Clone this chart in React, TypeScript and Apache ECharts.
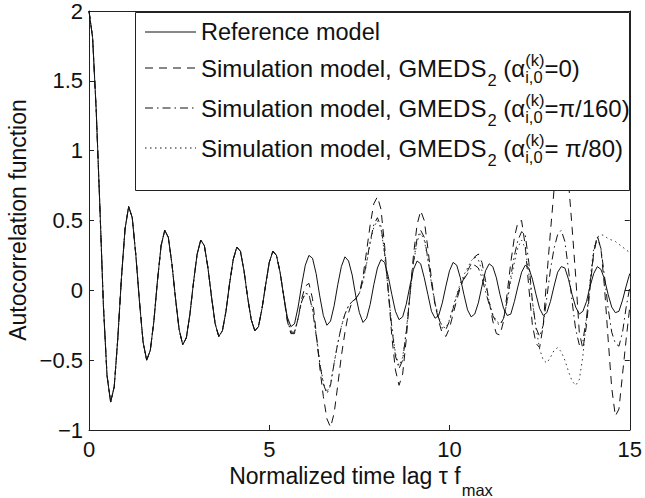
import React, { useEffect, useRef } from "react";
import * as echarts from "echarts";

// Reference model, sampled every 0.1 in tau from 0 to 15
const REF_VALUES = [
  2.0, 1.81, 1.29, 0.61, -0.11, -0.61, -0.8, -0.69, -0.34, 0.09,
  0.44, 0.6, 0.52, 0.25, -0.08, -0.37, -0.5, -0.43, -0.22, 0.07,
  0.32, 0.43, 0.38, 0.19, -0.06, -0.28, -0.39, -0.34, -0.17, 0.06,
  0.26, 0.36, 0.32, 0.16, -0.05, -0.24, -0.33, -0.29, -0.15, 0.05,
  0.22, 0.31, 0.28, 0.14, -0.05, -0.21, -0.29, -0.26, -0.13, 0.04,
  0.2, 0.28, 0.25, 0.13, -0.04, -0.19, -0.26, -0.24, -0.12, 0.04,
  0.18, 0.25, 0.23, 0.12, -0.04, -0.18, -0.25, -0.22, -0.11, 0.04,
  0.17, 0.24, 0.21, 0.11, -0.04, -0.16, -0.23, -0.2, -0.1, 0.04,
  0.16, 0.22, 0.2, 0.1, -0.03, -0.15, -0.21, -0.19, -0.1, 0.03,
  0.15, 0.21, 0.19, 0.09, -0.03, -0.15, -0.2, -0.18, -0.09, 0.03,
  0.14, 0.2, 0.18, 0.09, -0.03, -0.14, -0.19, -0.17, -0.09, 0.03,
  0.14, 0.19, 0.17, 0.09, -0.03, -0.13, -0.18, -0.17, -0.08, 0.03,
  0.13, 0.18, 0.16, 0.08, -0.03, -0.13, -0.18, -0.16, -0.08, 0.03,
  0.13, 0.17, 0.16, 0.08, -0.03, -0.12, -0.17, -0.15, -0.08, 0.03,
  0.12, 0.17, 0.15, 0.08, -0.03, -0.12, -0.16, -0.15, -0.07, 0.03,
  0.12,
];

// Simulation models coincide with the reference up to tau = 5.4; values below start at tau = 5.5 (step 0.1)
const SIM_START = 55;

const SIM_ALPHA0 = [
  -0.22, -0.31, -0.31, -0.2, -0.06, 0.03, 0.05, -0.06, -0.3, -0.55,
  -0.76, -0.92, -0.98, -0.88, -0.68, -0.47, -0.3, -0.16, -0.08, -0.06,
  -0.02, 0.1, 0.28, 0.47, 0.62, 0.67, 0.58, 0.32, 0.0, -0.33,
  -0.57, -0.68, -0.6, -0.35, -0.03, 0.25, 0.47, 0.57, 0.5, 0.3,
  0.08, -0.1, -0.22, -0.31, -0.33, -0.27, -0.17, -0.07, 0.02, 0.09,
  0.14, 0.19, 0.24, 0.26, 0.2, 0.07, -0.08, -0.22, -0.31, -0.32,
  -0.22, -0.02, 0.2, 0.38, 0.49, 0.5, 0.32, 0.02, -0.25, -0.38,
  -0.41, -0.25, 0.1, 0.42, 0.72, 0.95, 1.05, 0.98, 0.78, 0.45,
  0.1, -0.3, -0.42, -0.25, 0.02, 0.27, 0.39, 0.3, 0.02, -0.35,
  -0.7, -0.9, -0.85, -0.6, -0.35, -0.12,
];

const SIM_PI160 = [
  -0.21, -0.3, -0.3, -0.2, -0.08, -0.02, -0.03, -0.14, -0.32, -0.52,
  -0.67, -0.74, -0.68, -0.52, -0.38, -0.26, -0.17, -0.11, -0.08, -0.06,
  -0.02, 0.07, 0.2, 0.35, 0.47, 0.52, 0.46, 0.27, 0.0, -0.27,
  -0.47, -0.56, -0.5, -0.3, -0.04, 0.2, 0.37, 0.43, 0.38, 0.23,
  0.05, -0.1, -0.2, -0.27, -0.28, -0.22, -0.13, -0.04, 0.03, 0.08,
  0.12, 0.16, 0.18, 0.16, 0.09, -0.01, -0.1, -0.18, -0.23, -0.25,
  -0.2, -0.07, 0.1, 0.25, 0.36, 0.42, 0.4, 0.2, -0.08, -0.27,
  -0.33, -0.25, -0.05, 0.15, 0.3, 0.4, 0.43, 0.35, 0.15, -0.08,
  -0.28, -0.39, -0.36, -0.2, 0.05, 0.27, 0.38, 0.3, 0.1, -0.13,
  -0.3, -0.38, -0.4, -0.3, -0.12, 0.02,
];

const SIM_PI80 = [
  -0.21, -0.29, -0.3, -0.2, -0.08, -0.02, -0.03, -0.13, -0.31, -0.51,
  -0.66, -0.73, -0.67, -0.52, -0.38, -0.26, -0.17, -0.11, -0.08, -0.06,
  -0.02, 0.06, 0.19, 0.34, 0.45, 0.5, 0.44, 0.26, 0.0, -0.26,
  -0.45, -0.54, -0.48, -0.29, -0.04, 0.19, 0.35, 0.41, 0.36, 0.22,
  0.05, -0.09, -0.19, -0.26, -0.27, -0.21, -0.12, -0.03, 0.05, 0.11,
  0.16, 0.21, 0.24, 0.22, 0.14, 0.03, -0.08, -0.17, -0.22, -0.24,
  -0.2, -0.08, 0.07, 0.2, 0.31, 0.36, 0.3, 0.12, -0.08, -0.27,
  -0.42, -0.5, -0.52, -0.48, -0.43, -0.41, -0.44, -0.5, -0.58, -0.65,
  -0.68, -0.64, -0.47, -0.2, 0.08, 0.3, 0.38, 0.4, 0.39, 0.37,
  0.36, 0.35, 0.33, 0.31, 0.29, 0.27,
];

const X_MIN = 0;
const X_MAX = 15;
const X_INTERVAL = 5;
const Y_MIN = -1;
const Y_MAX = 2;
const Y_INTERVAL = 0.5;

const SERIES_NAMES = [
  "Reference model",
  "Simulation model, GMEDS2 (α=0)",
  "Simulation model, GMEDS2 (α=π/160)",
  "Simulation model, GMEDS2 (α=π/80)",
];
const LEGEND_MAIN = "Simulation model, GMEDS";
const LEGEND_TAILS = ["=0)", "=π/160)", "= π/80)"];
const X_TITLE = "Normalized time lag τ f";
const X_TITLE_SUB = "max";
const Y_TITLE = "Autocorrelation function";

const FONT = '"Liberation Sans", Arial, Helvetica, sans-serif';
const INK = "#111";

const GRID = { left: 89, top: 10, width: 543, height: 420 };

function buildRef() {
  return REF_VALUES.map((v, i) => [i / 10, v]);
}
function buildSim(vals: number[]) {
  const head = REF_VALUES.slice(0, SIM_START).map((v, i) => [i / 10, v]);
  const tail = vals.map((v, i) => [(SIM_START + i) / 10, v]);
  return head.concat(tail);
}

export default function App() {
  const ref = useRef<HTMLDivElement>(null);

  useEffect(() => {
    if (!ref.current) return;
    const chart = echarts.init(ref.current, null, { renderer: "svg" });

    const canvas = document.createElement("canvas");
    const ctx = canvas.getContext("2d")!;
    const tw = (s: string, size: number) => {
      ctx.font = `${size}px ${FONT}`;
      return ctx.measureText(s).width;
    };

    const MAIN = 23;
    const LEG_MAIN = 24;
    const SMALL = 16.5;
    const DASHES: (number[] | null)[] = [null, [8, 6], [8, 4, 1.5, 4], [1.5, 3.5]];
    const ROW_Y = [32, 68, 108, 148];

    const els: any[] = [];
    els.push({
      type: "rect",
      z: 100,
      shape: { x: 135.5, y: 12.5, width: 494, height: 178 },
      style: { fill: "#fff", stroke: "#222", lineWidth: 1 },
    });
    ROW_Y.forEach((y, i) => {
      els.push({
        type: "line",
        z: 101,
        shape: { x1: 145, y1: y, x2: 196, y2: y },
        style: { stroke: INK, lineWidth: 1, lineDash: DASHES[i] || undefined },
      });
      let x = 201;
      const add = (text: string, size: number, dy: number, advance = true) => {
        els.push({
          type: "text",
          z: 101,
          x,
          y: y + dy,
          style: { text, fontSize: size, fontFamily: FONT, fill: INK, align: "left", verticalAlign: "middle" },
        });
        const w = tw(text, size);
        if (advance) x += w;
        return w;
      };
      if (i === 0) {
        add(SERIES_NAMES[0], 23.5, 0);
      } else {
        add(LEGEND_MAIN, LEG_MAIN, 0);
        x += 1;
        add("2", SMALL, 12);
        add(" (α", LEG_MAIN, 0);
        const w1 = add("(k)", SMALL, -8, false);
        const w2 = add("i,0", SMALL, 9, false);
        x += Math.max(w1, w2);
        add(LEGEND_TAILS[i - 1], LEG_MAIN, 0);
      }
    });

    // axis titles
    const wMain = tw(X_TITLE, MAIN);
    const wSub = tw(X_TITLE_SUB, SMALL);
    const cx = GRID.left + GRID.width / 2;
    const x0 = cx - (wMain + wSub) / 2;
    els.push({
      type: "text",
      x: x0,
      y: 476,
      style: { text: X_TITLE, fontSize: MAIN, fontFamily: FONT, fill: INK, align: "left", verticalAlign: "middle" },
    });
    els.push({
      type: "text",
      x: x0 + wMain + 1,
      y: 490,
      style: { text: X_TITLE_SUB, fontSize: SMALL, fontFamily: FONT, fill: INK, align: "left", verticalAlign: "middle" },
    });
    els.push({
      type: "text",
      x: 18,
      y: GRID.top + GRID.height / 2,
      rotation: Math.PI / 2,
      style: { text: Y_TITLE, fontSize: MAIN, fontFamily: FONT, fill: INK, align: "center", verticalAlign: "middle" },
    });

    const fmt = (v: number) => String(v).replace("-", "\u2212");
    const axisLine = { show: true, onZero: false, lineStyle: { color: "#222", width: 1 } };
    const tick = { show: true, inside: true, length: 5, lineStyle: { color: "#222", width: 1 } };

    chart.setOption({
      animation: false,
      backgroundColor: "#fff",
      grid: { ...GRID, containLabel: false },
      xAxis: [
        {
          type: "value",
          min: X_MIN,
          max: X_MAX,
          interval: X_INTERVAL,
          position: "bottom",
          axisLine,
          axisTick: tick,
          splitLine: { show: false },
          axisLabel: { fontSize: 22, fontFamily: FONT, color: INK, margin: 8, formatter: fmt },
        },
        {
          type: "value",
          min: X_MIN,
          max: X_MAX,
          interval: X_INTERVAL,
          position: "top",
          axisLine,
          axisTick: tick,
          splitLine: { show: false },
          axisLabel: { show: false },
        },
      ],
      yAxis: [
        {
          type: "value",
          min: Y_MIN,
          max: Y_MAX,
          interval: Y_INTERVAL,
          position: "left",
          axisLine,
          axisTick: tick,
          splitLine: { show: false },
          axisLabel: { fontSize: 22, fontFamily: FONT, color: INK, margin: 6, formatter: fmt },
        },
        {
          type: "value",
          min: Y_MIN,
          max: Y_MAX,
          interval: Y_INTERVAL,
          position: "right",
          axisLine,
          axisTick: tick,
          splitLine: { show: false },
          axisLabel: { show: false },
        },
      ],
      series: [
        {
          type: "line",
          name: SERIES_NAMES[1],
          data: buildSim(SIM_ALPHA0),
          symbol: "none",
          lineStyle: { color: INK, width: 1, type: [8, 6] },
        },
        {
          type: "line",
          name: SERIES_NAMES[2],
          data: buildSim(SIM_PI160),
          symbol: "none",
          lineStyle: { color: INK, width: 1, type: [8, 4, 1.5, 4] },
        },
        {
          type: "line",
          name: SERIES_NAMES[3],
          data: buildSim(SIM_PI80),
          symbol: "none",
          lineStyle: { color: "#333", width: 1, type: [1.5, 3.5] },
        },
        {
          type: "line",
          name: SERIES_NAMES[0],
          data: buildRef(),
          symbol: "none",
          lineStyle: { color: INK, width: 1, type: "solid" },
        },
      ],
      graphic: els,
    });

    return () => chart.dispose();
  }, []);

  return (
    <div
      ref={ref}
      style={{ position: "fixed", left: 0, top: 0, width: 645, height: 498, background: "#fff" }}
    />
  );
}
